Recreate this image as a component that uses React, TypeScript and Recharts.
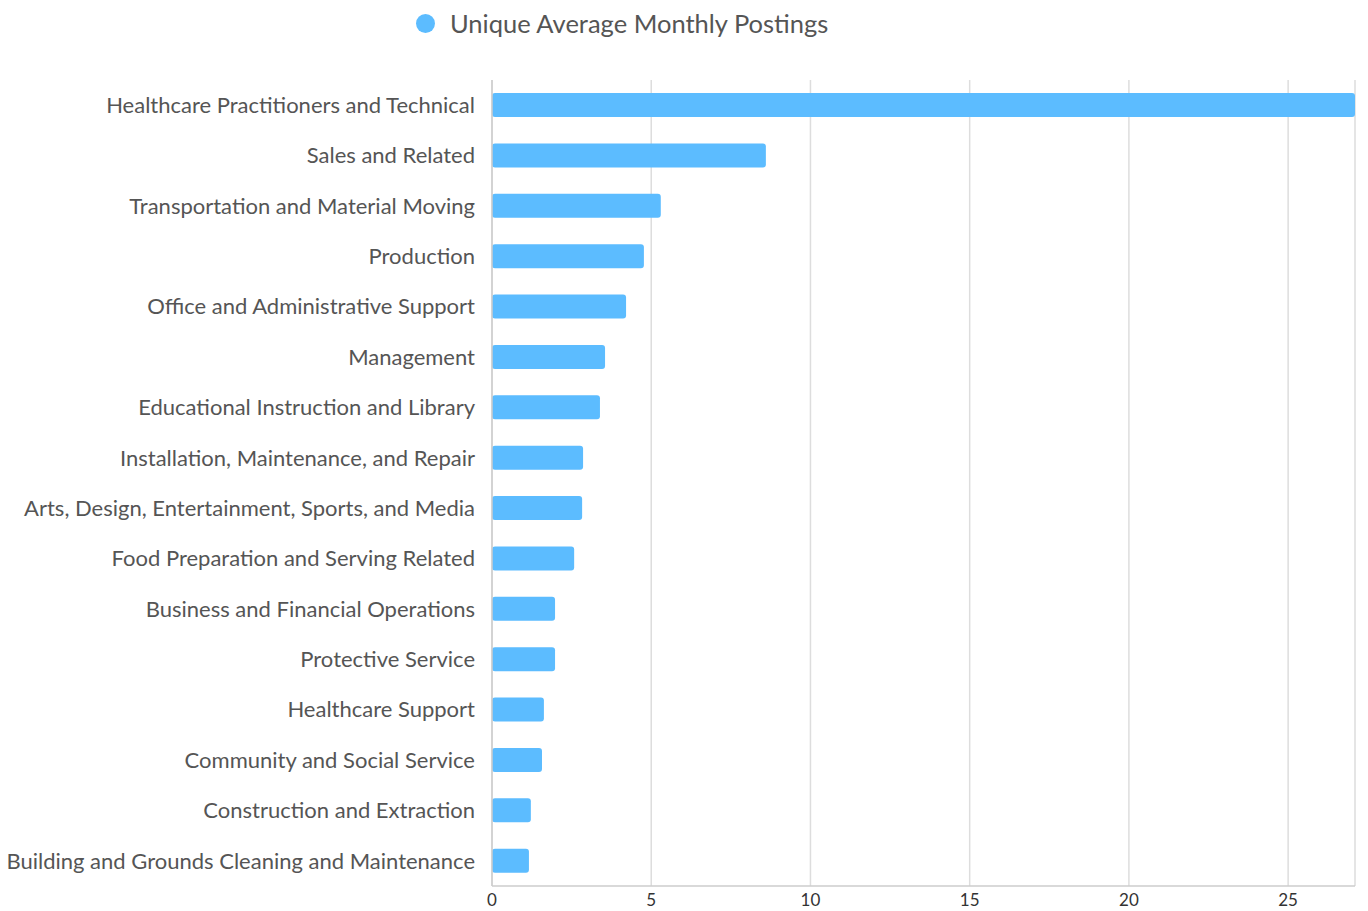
import { BarChart, Bar, XAxis, YAxis, CartesianGrid, Legend } from "recharts";

const categories = [
  "Healthcare Practitioners and Technical",
  "Sales and Related",
  "Transportation and Material Moving",
  "Production",
  "Office and Administrative Support",
  "Management",
  "Educational Instruction and Library",
  "Installation, Maintenance, and Repair",
  "Arts, Design, Entertainment, Sports, and Media",
  "Food Preparation and Serving Related",
  "Business and Financial Operations",
  "Protective Service",
  "Healthcare Support",
  "Community and Social Service",
  "Construction and Extraction",
  "Building and Grounds Cleaning and Maintenance",
];

const postings = [27.1, 8.6, 5.3, 4.77, 4.21, 3.55, 3.39, 2.86, 2.83, 2.58, 1.98, 1.98, 1.63, 1.57, 1.22, 1.16];

const xTicks = [0, 5, 10, 15, 20, 25];

const seriesName = "Unique Average Monthly Postings";
const barColor = "#5cbcff";

const data = categories.map((name, i) => ({ name, value: postings[i] }));

function LegendContent() {
  return (
    <div style={{ display: "flex", alignItems: "center", fontFamily: "Lato", fontSize: 25.5, color: "#555" }}>
      <span
        style={{
          display: "inline-block",
          width: 19,
          height: 19,
          borderRadius: "50%",
          background: barColor,
          marginRight: 15,
        }}
      />
      {seriesName}
    </div>
  );
}

export default function App() {
  return (
    <div style={{ position: "absolute", left: 0, top: 0, background: "#fff" }}>
      <BarChart
        width={1368}
        height={911}
        data={data}
        layout="vertical"
        margin={{ top: 20, right: 13, left: 0, bottom: 0 }}
        style={{ fontFamily: "Lato" }}
      >
        <Legend
          verticalAlign="top"
          height={60}
          content={<LegendContent />}
          wrapperStyle={{ top: 8, left: 416, width: "auto" }}
        />
        <CartesianGrid horizontal={false} stroke="#dddddd" strokeWidth={1.5} />
        <XAxis
          type="number"
          domain={[0, "dataMax"]}
          ticks={xTicks}
          tickLine={false}
          axisLine={{ stroke: "#cccccc", strokeWidth: 1.5 }}
          tick={{ fill: "#333", fontSize: 17 }}
          tickMargin={2}
          height={25}
        />
        <YAxis
          type="category"
          dataKey="name"
          width={492}
          tickLine={false}
          axisLine={{ stroke: "#cccccc", strokeWidth: 1.5 }}
          tick={{ fill: "#555", fontSize: 22 }}
          tickSize={6}
          tickMargin={11}
          interval={0}
        />
        <Bar dataKey="value" name={seriesName} fill={barColor} barSize={24} radius={3} isAnimationActive={false} />
      </BarChart>
    </div>
  );
}
